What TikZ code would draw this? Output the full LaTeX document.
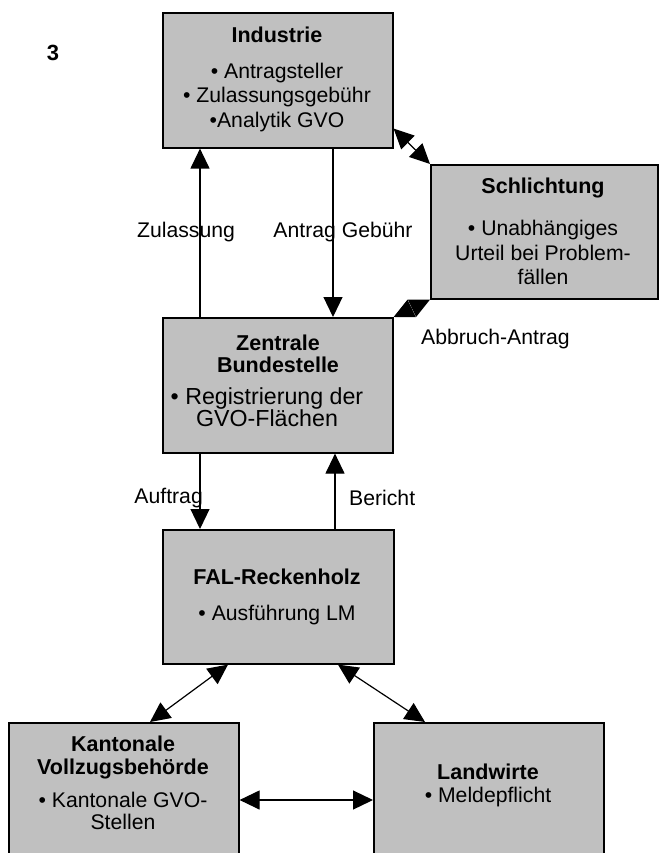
\documentclass[tikz,border=0pt]{standalone}
\usepackage{fontspec}
\setmainfont{Liberation Sans}
\usetikzlibrary{arrows.meta}
\definecolor{boxgray}{HTML}{C0C0C0}
\tikzset{
  box/.style={draw=black, line width=1.6pt, fill=boxgray, anchor=north west, inner sep=0pt},
  txt/.style={align=center, inner sep=0pt, font=\fontsize{21.2}{24.5}\selectfont},
  ttl/.style={align=center, inner sep=0pt, font=\fontsize{21.5}{22.5}\selectfont\bfseries},
  lbl/.style={inner sep=0pt, font=\fontsize{21.2}{24.5}\selectfont},
  conn/.style={line width=1.2pt, -{Triangle[length=20pt,width=19pt]}},
  dconn/.style={line width=1.2pt, {Triangle[length=20pt,width=19pt]}-{Triangle[length=20pt,width=19pt]}}
}
\begin{document}
\begin{tikzpicture}[x=1pt, y=-1pt]
\useasboundingbox (0,0) rectangle (658,853);
% boxes
\node[box, minimum width=230pt, minimum height=135pt] (ind) at (162,12) {};
\node[box, minimum width=227pt, minimum height=134pt] (sch) at (430,164) {};
\node[box, minimum width=230pt, minimum height=135pt] (zen) at (162,317) {};
\node[box, minimum width=231pt, minimum height=134pt] (fal) at (162,529) {};
\node[box, minimum width=230pt, minimum height=136pt] (kan) at (8,722) {};
\node[box, minimum width=230pt, minimum height=136pt] (lw) at (373,722) {};
% number
\node[lbl, font=\fontsize{22}{24.5}\selectfont\bfseries] (num) at (53,53) {3};
% texts
\node[ttl] (indt) at (277,35) {Industrie};
\node[txt] (indb) at (277,97.5) {• Antragsteller\\• Zulassungsgebühr\\•Analytik GVO};
\node[ttl] (scht) at (543,188) {Schlichtung};
\node[txt] (schb) at (543,252.5) {• Unabhängiges\\Urteil bei Problem-\\fällen};
\node[ttl] (zent) at (278,354) {Zentrale\\Bundestelle};
\node[txt, font=\fontsize{23.2}{21.7}\selectfont] (zenb) at (267,407.5) {• Registrierung der\\GVO-Flächen};
\node[ttl] (falt) at (277,577) {FAL-Reckenholz};
\node[txt] (falb) at (277,615) {• Ausführung LM};
\node[ttl] (kant) at (123,757.5) {Kantonale\\Vollzugsbehörde};
\node[txt, font=\fontsize{21.2}{22}\selectfont] (kanb) at (123,811) {• Kantonale GVO-\\Stellen};
\node[ttl] (lwt) at (488,772) {Landwirte};
\node[txt] (lwb) at (488,797) {• Meldepflicht};
% labels
\node[lbl] (lzul) at (186,232) {Zulassung};
\node[lbl] (lant) at (343,232) {Antrag Gebühr};
\node[lbl, anchor=west] (labb) at (421,339) {Abbruch-Antrag};
\node[lbl, anchor=east] (lauf) at (203,498) {Auftrag};
\node[lbl, anchor=west] (lber) at (349,498) {Bericht};
% connectors
\draw[conn] ([xshift=38pt]zen.north west) -- ([xshift=38pt]ind.south west);
\draw[conn] ([xshift=171pt]ind.south west) -- ([xshift=171pt]zen.north west);
\draw[dconn] ([yshift=20pt]ind.south east) -- (sch.north west);
\draw[dconn] (zen.north east) -- (sch.south west);
\draw[conn] ([xshift=38pt]zen.south west) -- ([xshift=38pt]fal.north west);
\draw[conn] ([xshift=173pt]fal.north west) -- ([xshift=173pt]zen.south west);
\draw[dconn] ([xshift=66pt]fal.south west) -- ([xshift=142pt]kan.north west);
\draw[dconn] ([xshift=176pt]fal.south west) -- ([xshift=52pt]lw.north west);
\draw[dconn] ([yshift=-78pt]kan.north east) -- ([yshift=-78pt]lw.north west);
\end{tikzpicture}
\end{document}
